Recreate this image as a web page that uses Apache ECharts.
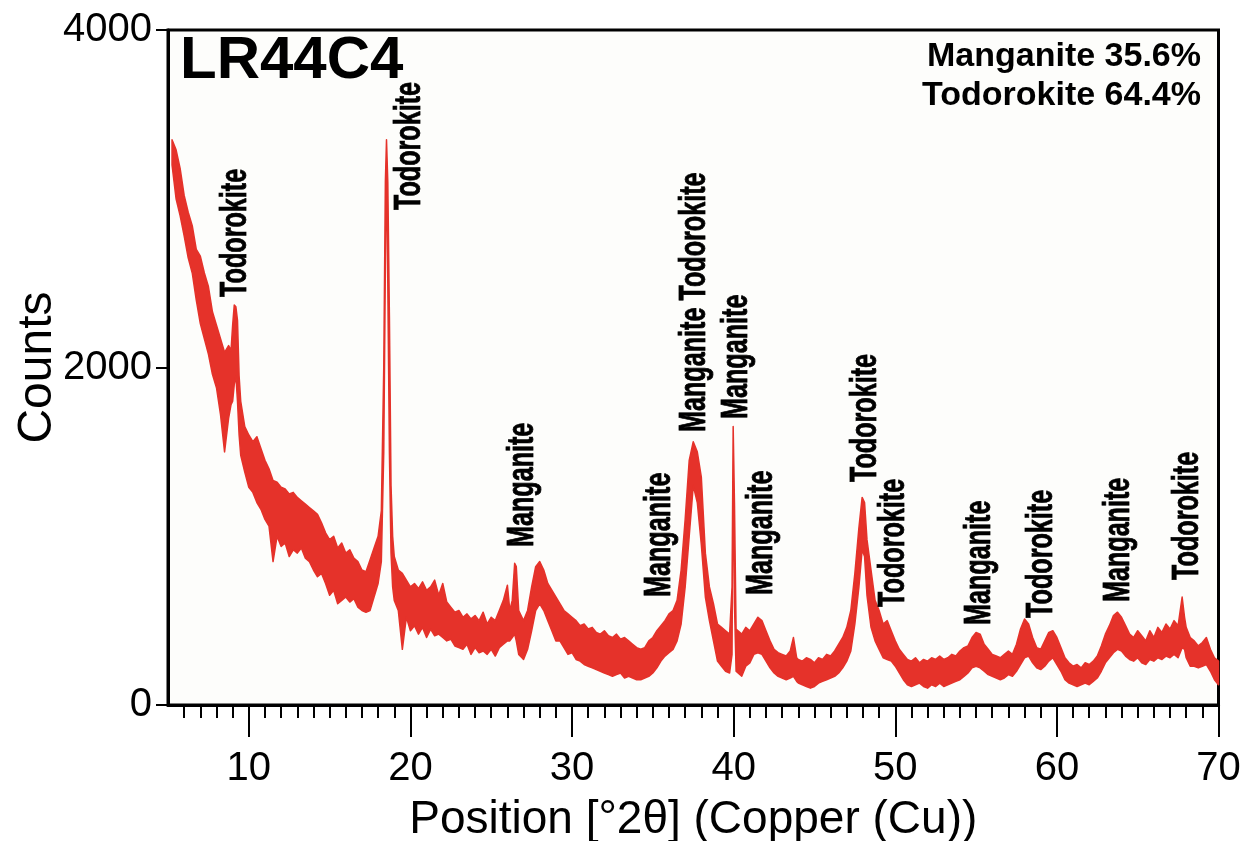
<!DOCTYPE html>
<html>
<head>
<meta charset="utf-8">
<script src="https://cdn.jsdelivr.net/npm/echarts@6/dist/echarts.min.js"></script>
<style>html,body{margin:0;padding:0;background:#fff}#c{width:1243px;height:841px}</style>
</head>
<body>
<div id="c"></div>
<script>
// 2-theta positions (degrees)
const position = [
  5.25,5.5,5.75,6,6.25,6.5,6.75,7,7.25,7.5,7.75,8,8.25,8.5,8.75,8.9,9,9.1,9.2,9.3,9.4,9.5,9.75,
  10,10.25,10.5,10.75,11,11.25,11.5,11.75,12,12.25,12.5,12.75,13,13.25,13.5,13.75,14,14.25,14.5,14.75,
  15,15.25,15.5,15.75,16,16.25,16.5,16.75,17,17.25,17.5,17.75,18,18.2,18.35,18.45,18.52,18.6,18.7,18.8,18.9,19,19.25,19.5,19.75,
  20,20.25,20.5,20.75,21,21.25,21.5,21.75,22,22.25,22.5,22.75,23,23.25,23.5,23.75,24,24.25,24.5,24.75,
  25,25.25,25.5,25.75,26,26.15,26.3,26.45,26.55,26.7,26.9,27,27.25,27.5,27.75,28,28.25,28.5,28.75,29,29.25,29.5,29.75,
  30,30.25,30.5,30.75,31,31.25,31.5,31.75,32,32.25,32.5,32.75,33,33.25,33.5,33.75,34,34.25,34.5,34.75,
  35,35.25,35.5,35.75,36,36.25,36.5,36.75,37,37.25,37.5,37.75,38,38.25,38.5,38.75,39,39.25,39.5,39.75,39.9,39.97,40.05,40.15,
  40.5,40.75,41,41.25,41.5,41.75,42,42.25,42.5,42.75,43,43.25,43.5,43.7,43.9,44,44.25,44.5,44.75,
  45,45.25,45.5,45.75,46,46.25,46.5,46.75,47,47.25,47.5,47.75,47.95,48.1,48.25,48.5,48.75,49,49.25,49.5,49.75,
  50,50.25,50.5,50.75,51,51.25,51.5,51.75,52,52.25,52.5,52.75,53,53.25,53.5,53.75,54,54.25,54.5,54.75,
  55,55.25,55.5,55.75,56,56.25,56.5,56.75,57,57.25,57.5,57.75,58,58.25,58.5,58.75,59,59.25,59.5,59.75,
  60,60.25,60.5,60.75,61,61.25,61.5,61.75,62,62.25,62.5,62.75,63,63.25,63.5,63.75,64,64.25,64.5,64.75,
  65,65.25,65.5,65.75,66,66.25,66.5,66.75,67,67.25,67.5,67.75,67.9,68,68.25,68.5,68.75,69,69.25,69.5,69.75,70
];
// upper edge of the noisy trace (counts)
const countsHigh = [
  3350,3290,3180,3020,2920,2840,2700,2660,2560,2480,2330,2250,2170,2090,2130,2100,2250,2370,2360,2280,1950,1800,1650,
  1600,1560,1590,1520,1450,1400,1330,1320,1290,1280,1250,1260,1230,1210,1190,1170,1150,1130,1080,1020,
  980,1000,930,960,900,920,870,850,800,790,860,930,1000,1150,2000,3100,3350,3100,2300,1300,1000,880,800,780,740,
  700,720,690,730,680,700,740,650,720,610,580,550,560,520,540,510,530,500,550,480,
  520,500,560,620,710,560,620,840,820,560,520,500,560,700,820,850,800,720,680,640,600,560,540,
  520,500,470,480,450,460,430,420,440,410,400,420,390,400,380,360,340,330,340,380,
  400,440,470,500,540,560,620,800,1100,1450,1560,1500,1350,900,700,600,480,460,440,420,700,1650,1200,450,
  420,460,440,480,520,500,440,380,330,310,300,290,320,400,280,270,260,280,270,
  250,280,270,300,290,320,360,400,460,560,780,1050,1230,1200,980,800,620,560,480,500,440,
  380,330,300,270,260,280,250,270,260,280,270,290,270,280,300,290,320,340,350,400,
  430,420,360,330,300,290,280,300,320,300,360,450,510,480,400,340,330,380,430,440,
  400,340,280,250,230,240,220,250,240,260,290,350,420,470,530,550,520,470,420,400,
  440,410,380,440,400,460,430,480,450,500,470,640,520,460,400,380,350,370,400,330,280,260
];
// lower edge of the noisy trace (counts)
const countsLow = [
  3200,3000,2900,2780,2650,2560,2400,2260,2170,2080,1960,1880,1720,1500,1700,1780,1800,1900,1950,1800,1600,1480,1380,
  1290,1260,1200,1160,1100,1060,850,1000,940,960,880,920,900,930,870,850,800,760,780,720,
  650,680,600,620,640,610,630,580,560,550,560,640,720,850,1500,2600,3250,2500,1500,900,700,620,560,330,520,
  440,470,420,460,400,450,410,420,400,380,390,350,340,330,360,300,340,310,320,300,
  330,290,340,360,380,380,400,420,380,300,280,270,330,440,560,600,560,500,440,380,380,340,300,
  310,270,260,240,230,220,210,200,190,180,170,180,190,160,170,160,150,150,160,170,
  190,220,260,290,310,330,380,480,700,1000,1300,1200,950,640,500,380,260,230,200,190,300,1500,600,200,
  170,230,250,300,310,300,260,220,190,170,160,150,160,170,140,130,120,110,100,
  110,130,140,150,160,170,190,220,260,320,480,700,920,880,650,460,380,330,280,270,260,
  230,190,150,120,110,120,130,110,100,120,110,130,110,120,130,140,150,170,190,220,
  230,220,200,180,170,160,150,160,180,170,200,240,280,290,250,220,210,230,260,280,
  240,200,150,130,120,110,120,130,120,140,160,200,250,280,310,330,320,290,270,260,
  280,250,240,270,260,280,270,290,280,300,280,340,330,280,230,230,220,230,240,200,150,120
];
const xTickLabels = [10,20,30,40,50,60,70];
const yTickLabels = [0,2000,4000];
const peakNames = ['Todorokite','Todorokite','Manganite','Manganite','Manganite Todorokite','Manganite','Manganite','Todorokite','Todorokite','Manganite','Todorokite','Manganite','Todorokite'];
const peakLabelX = [9.21,19.98,26.97,35.45,37.6,40.2,41.76,48.2,49.9,55.25,59.08,63.8,68.1];
const peakLabelBase = [2418,2933,936,640,1618,1695,652,1321,581,474,516,610,741];
const sampleName = 'LR44C4';
const phaseLines = ['Manganite 35.6%','Todorokite 64.4%'];

const RED = '#e5322a';
const FONT = '"Liberation Sans", Arial, Helvetica, sans-serif';
const minorTicks = [];
for (let v = 6; v < 70; v++) if (v % 10 !== 0) minorTicks.push(v);

const traceData = position.map((x, i) => [x, countsLow[i], countsHigh[i]]);

const chart = echarts.init(document.getElementById('c'), null, {renderer: 'canvas'});
const option = {
  animation: false,
  backgroundColor: '#ffffff',
  grid: {left: 168, right: 24.5, top: 30, bottom: 136, outerBoundsMode: 'none', containLabel: false,
         show: true, borderColor: '#000', borderWidth: 3, backgroundColor: '#fdfdfb'},
  xAxis: [
    {type: 'value', min: 5, max: 70, position: 'bottom',
     axisLine: {show: true, lineStyle: {color: '#000', width: 3}},
     axisTick: {show: true, customValues: minorTicks, length: 13, lineStyle: {color: '#000', width: 2}},
     axisLabel: {show: false}, splitLine: {show: false}},
    {type: 'value', min: 5, max: 70, position: 'bottom',
     axisLine: {show: false},
     axisTick: {show: true, customValues: xTickLabels, length: 32, lineStyle: {color: '#000', width: 2}},
     axisLabel: {show: true, customValues: xTickLabels, margin: 44, fontSize: 40, color: '#000', fontFamily: FONT},
     splitLine: {show: false},
     name: 'Position [°2θ] (Copper (Cu))', nameLocation: 'middle', nameGap: 92, nameMoveOverlap: false,
     nameTextStyle: {fontSize: 46, color: '#000', fontFamily: FONT, verticalAlign: 'top'}}
  ],
  yAxis: {type: 'value', min: 0, max: 4000, interval: 2000,
    axisLine: {show: true, lineStyle: {color: '#000', width: 3}},
    axisTick: {show: true, length: 12, lineStyle: {color: '#000', width: 2}},
    axisLabel: {margin: 16, fontSize: 40, color: '#000', fontFamily: FONT, formatter: v => String(v)},
    splitLine: {show: false},
    name: 'Counts', nameLocation: 'middle', nameGap: 106, nameMoveOverlap: false,
    nameTextStyle: {fontSize: 48, color: '#000', fontFamily: FONT, verticalAlign: 'bottom'}},
  series: [
    {type: 'custom', coordinateSystem: 'cartesian2d', xAxisIndex: 0, yAxisIndex: 0,
     data: traceData, encode: {x: 0, y: [1, 2]}, silent: true, z: 3,
     renderItem: function (params, api) {
       if (params.dataIndex !== 0) return null;
       const pts = [];
       for (let i = 0; i < position.length; i++) pts.push(api.coord([position[i], countsHigh[i]]));
       for (let i = position.length - 1; i >= 0; i--) pts.push(api.coord([position[i], countsLow[i]]));
       return {type: 'polygon', shape: {points: pts},
               style: {fill: RED, stroke: RED, lineWidth: 1.5, lineJoin: 'round'}};
     }}
  ]
};
chart.setOption(option);

const graphics = [];
peakNames.forEach((name, i) => {
  const p = chart.convertToPixel({gridIndex: 0}, [peakLabelX[i], peakLabelBase[i]]);
  graphics.push({type: 'text', x: p[0], y: p[1], rotation: Math.PI / 2, scaleX: 0.68, z: 20,
    style: {text: name, font: 'bold 37px ' + FONT, fill: '#000', stroke: '#000', lineWidth: 0.8,
            align: 'left', verticalAlign: 'middle'}});
});
graphics.push({type: 'text', x: 180, y: 61, z: 20,
  style: {text: sampleName, font: 'bold 60px ' + FONT, fill: '#000', align: 'left', verticalAlign: 'middle'}});
graphics.push({type: 'text', x: 1201, y: 57, z: 20,
  style: {text: phaseLines[0], font: 'bold 34px ' + FONT, fill: '#000', align: 'right', verticalAlign: 'middle'}});
graphics.push({type: 'text', x: 1201, y: 96, z: 20,
  style: {text: phaseLines[1], font: 'bold 34px ' + FONT, fill: '#000', align: 'right', verticalAlign: 'middle'}});
chart.setOption({graphic: graphics});
</script>
</body>
</html>
